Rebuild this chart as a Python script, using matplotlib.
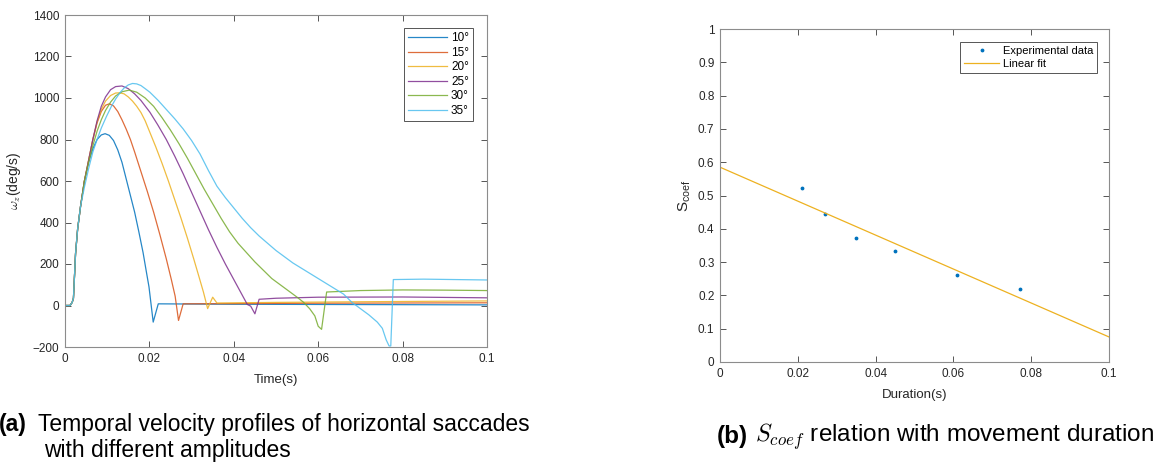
import numpy as np
import matplotlib
matplotlib.use("Agg")
import matplotlib.pyplot as plt

plt.rcParams["font.family"] = ["Liberation Sans", "DejaVu Sans"]
plt.rcParams["mathtext.fontset"] = "custom"
plt.rcParams["mathtext.rm"] = "Liberation Sans"
plt.rcParams["mathtext.it"] = "Liberation Sans:italic"

# ---- panel (a): velocity profiles (time in s, omega_z in deg/s) ----
rise_t = [0, 0.0012, 0.0017, 0.002, 0.0022, 0.0025, 0.003, 0.0037, 0.0046, 0.0056]
rise_v = [0, 0, 15, 35, 120, 250, 370, 480, 600, 700]

t10 = rise_t[:-1] + [0.0056, 0.0066, 0.0076, 0.0086, 0.0095, 0.0105, 0.0115, 0.0125, 0.0135,
                     0.0145, 0.0155, 0.0165, 0.0175, 0.0185, 0.0193, 0.0199, 0.0209, 0.0221,
                     0.04, 0.06, 0.08, 0.1]
v10 = rise_v[:-1] + [690, 755, 800, 822, 828, 820, 795, 750, 690,
                     610, 530, 450, 355, 255, 160, 90, -80, 8,
                     6, 5, 4, 3]

t15 = rise_t + [0.0066, 0.0076, 0.0086, 0.0096, 0.0105, 0.0115, 0.0125, 0.0135, 0.0145, 0.0155,
                0.0165, 0.018, 0.0195, 0.021, 0.0225, 0.024, 0.0252, 0.0261, 0.0269, 0.028,
                0.04, 0.06, 0.08, 0.1]
v15 = rise_v + [800, 880, 935, 965, 972, 962, 935, 895, 850, 800,
                740, 645, 550, 450, 340, 225, 125, 45, -72, 8,
                9, 11, 12, 13]

t20 = rise_t + [0.0066, 0.0076, 0.0086, 0.0096, 0.0108, 0.012, 0.013, 0.014, 0.015, 0.016,
                0.017, 0.018, 0.019, 0.020, 0.0215, 0.023, 0.0245, 0.026, 0.0275, 0.029,
                0.0305, 0.0318, 0.0328, 0.0338, 0.035, 0.036, 0.05, 0.07, 0.1]
v20 = rise_v + [800, 885, 945, 985, 1012, 1024, 1025, 1020, 1005, 985,
                960, 930, 890, 840, 765, 685, 600, 510, 420, 325,
                225, 135, 65, -15, 40, 12, 15, 18, 22]

t25 = rise_t + [0.0066, 0.0076, 0.0086, 0.0096, 0.0108, 0.012, 0.0135, 0.015, 0.0165, 0.018,
                0.0201, 0.022, 0.024, 0.026, 0.028, 0.030, 0.032, 0.034, 0.036, 0.038,
                0.040, 0.042, 0.0432, 0.044, 0.045, 0.046, 0.05, 0.06, 0.08, 0.1]
v25 = rise_v + [800, 890, 960, 1005, 1040, 1055, 1058, 1045, 1020, 988,
                932, 870, 800, 720, 635, 545, 455, 365, 280, 200,
                125, 50, 5, -3, -40, 30, 35, 40, 41, 37]

t30 = rise_t[:-1] + [0.0056, 0.0066, 0.0076, 0.0086, 0.0096, 0.0108, 0.012, 0.0135, 0.0152, 0.017,
                     0.019, 0.021, 0.023, 0.025, 0.027, 0.029, 0.031, 0.033, 0.035, 0.037,
                     0.039, 0.041, 0.043, 0.045, 0.047, 0.049, 0.051, 0.053, 0.055, 0.0565,
                     0.058, 0.0592, 0.060, 0.0608, 0.062, 0.07, 0.08, 0.09, 0.1]
v30 = rise_v[:-1] + [690, 770, 840, 895, 940, 980, 1010, 1030, 1038, 1028,
                     1000, 960, 905, 845, 780, 710, 635, 560, 490, 420,
                     355, 300, 255, 210, 170, 130, 100, 70, 40, 16,
                     -16, -50, -100, -115, 65, 72, 75, 74, 72]

t35 = rise_t[:-2] + [0.0046, 0.0056, 0.0066, 0.0076, 0.0086, 0.0098, 0.011, 0.012, 0.013, 0.014,
                     0.015, 0.016, 0.017, 0.018, 0.019, 0.0201, 0.022, 0.024, 0.026, 0.028,
                     0.030, 0.032, 0.034, 0.036, 0.038, 0.040, 0.042, 0.044, 0.046, 0.048,
                     0.050, 0.052, 0.054, 0.056, 0.058, 0.060, 0.062, 0.064, 0.066, 0.068,
                     0.070, 0.072, 0.074, 0.0752, 0.0761, 0.0768, 0.0772, 0.0778, 0.085, 0.1]
v35 = rise_v[:-2] + [570, 660, 740, 800, 855, 910, 960, 995, 1025, 1048,
                     1063, 1070, 1068, 1060, 1045, 1028, 990, 945, 900, 851,
                     795, 730, 650, 575, 520, 470, 420, 375, 335, 300,
                     265, 235, 205, 180, 155, 130, 105, 80, 55, 15,
                     -15, -45, -80, -110, -165, -195, -195, 125, 127, 123]

labels_a = ["10°", "15°", "20°", "25°", "30°", "35°"]
colors = ["#0072BD", "#D95319", "#EDB120", "#7E2F8E", "#77AC30", "#4DBEEE"]

# ---- panel (b): S_coef vs duration ----
duration = np.array([0.021, 0.027, 0.035, 0.045, 0.061, 0.077])
s_coef = np.array([0.524, 0.444, 0.371, 0.333, 0.262, 0.220])

fig = plt.figure(figsize=(11.66, 4.63), dpi=100)
W, H = 1166, 463


def style_axes(ax):
    for sp in ax.spines.values():
        sp.set_color("#8c8c8c")
        sp.set_linewidth(0.8)
    ax.tick_params(direction="in", length=4, width=0.7, color="#555555",
                   labelsize=8.5, labelcolor="#262626", top=True, right=True, pad=4)


ax1 = fig.add_axes([65 / W, 1 - 347 / H, 422 / W, 332 / H])
series = [(t10, v10), (t15, v15), (t20, v20), (t25, v25), (t30, v30), (t35, v35)]
for (t, v), lab, c in zip(series, labels_a, colors):
    ax1.plot(t, v, color=c, lw=0.9, alpha=0.85, label=lab)
ax1.set_xlim(0, 0.1)
ax1.set_ylim(-200, 1400)
ax1.set_xticks([0, 0.02, 0.04, 0.06, 0.08, 0.1])
ax1.set_xticklabels(["0", "0.02", "0.04", "0.06", "0.08", "0.1"])
ax1.set_yticks(np.arange(-200, 1401, 200))
style_axes(ax1)
ax1.set_xlabel("Time(s)", fontsize=9.5, color="#262626")
ax1.xaxis.set_label_coords(0.5, -0.08)
ax1.set_ylabel(r"$\omega_z$(deg/s)", fontsize=10, color="#262626", math_fontfamily="cm")
ax1.yaxis.set_label_coords(-0.1, 0.5)
leg1 = ax1.legend(loc="upper right", bbox_to_anchor=(0.967, 0.961), borderaxespad=0,
                  fontsize=8.5, frameon=True, fancybox=False, framealpha=1,
                  edgecolor="#555555", handlelength=3.3, labelspacing=0.22,
                  handletextpad=0.3, borderpad=0.35)
leg1.get_frame().set_linewidth(0.7)

ax2 = fig.add_axes([720 / W, 1 - 362 / H, 389 / W, 333 / H])
ax2.plot(duration, s_coef, ".", color="#0072BD", ms=3.5, label="Experimental data")
slope, icpt = np.polyfit(duration, s_coef, 1)
xf = np.array([0, 0.1])
ax2.plot(xf, slope * xf + icpt, color="#EDB120", lw=0.9, label="Linear fit")
ax2.set_xlim(0, 0.1)
ax2.set_ylim(0, 1)
ax2.set_xticks([0, 0.02, 0.04, 0.06, 0.08, 0.1])
ax2.set_xticklabels(["0", "0.02", "0.04", "0.06", "0.08", "0.1"])
ax2.set_yticks(np.arange(0, 1.01, 0.1))
ax2.set_yticklabels(["0"] + ["%.1f" % v for v in np.arange(0.1, 0.95, 0.1)] + ["1"])
style_axes(ax2)
ax2.set_xlabel("Duration(s)", fontsize=9.5, color="#262626")
ax2.xaxis.set_label_coords(0.5, -0.082)
ax2.set_ylabel(r"S$_{\mathrm{coef}}$", fontsize=11, color="#262626")
ax2.yaxis.set_label_coords(-0.069, 0.5)
leg2 = ax2.legend(loc="upper right", bbox_to_anchor=(0.969, 0.961), borderaxespad=0,
                  fontsize=8, frameon=True, fancybox=False, framealpha=1,
                  edgecolor="#555555", handlelength=3.2, labelspacing=0.25,
                  handletextpad=0.3, borderpad=0.35)
leg2.get_frame().set_linewidth(0.7)

# ---- captions ----
cap = dict(color="black", va="center")
fig.text(-1 / W, 1 - 424 / H, "(a)", fontweight="bold", fontsize=16.5, **cap)
fig.text(38 / W, 1 - 424 / H, "Temporal velocity profiles of horizontal saccades",
         fontsize=16.5, **cap)
fig.text(44 / W, 1 - 450 / H, "with different amplitudes", fontsize=16.5, **cap)
fig.text(717 / W, 1 - 437 / H, "(b)", fontweight="bold", fontsize=17.5, **cap)
fig.text(755 / W, 1 - 437 / H, r"$S_{coef}$ relation with movement duration",
         math_fontfamily="cm", fontsize=17.5, **cap)

fig.savefig("out.png", dpi=100)
